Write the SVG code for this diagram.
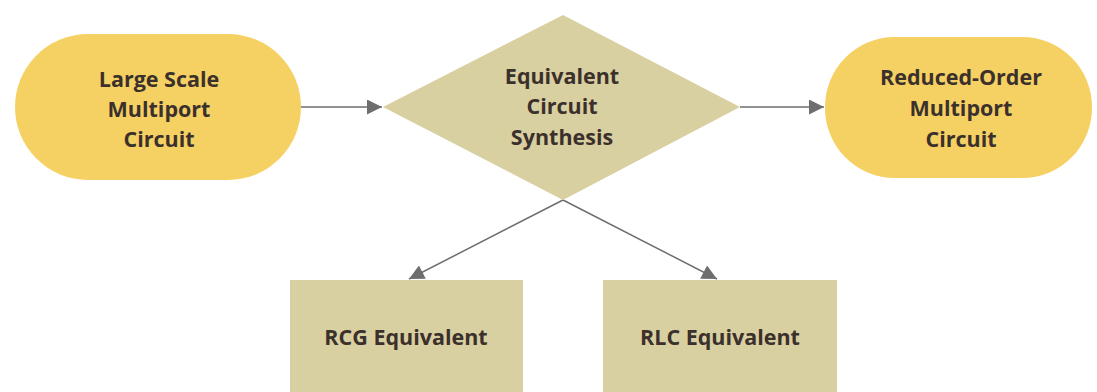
<svg xmlns="http://www.w3.org/2000/svg" width="1097" height="392" viewBox="0 0 1097 392">
  <style>
    .pill { fill: #f5d163; }
    .khaki { fill: #d9d0a1; }
    .label { font-family: "Open Sans", "Noto Sans", "Liberation Sans", sans-serif; font-weight: bold; font-size: 21.5px; fill: #3b302b; text-anchor: middle; }
    .edge { stroke: #6e6e6e; stroke-width: 1.5; fill: none; marker-end: url(#arrow); }
  </style>
  <defs>
    <marker id="arrow" viewBox="0 0 10 10" refX="10" refY="5" markerWidth="17" markerHeight="15" markerUnits="userSpaceOnUse" orient="auto">
      <path d="M0,0 L10,5 L0,10 z" fill="#6e6e6e"/>
    </marker>
  </defs>
  <rect width="1097" height="392" fill="#ffffff"/>

  <g id="connectors">
    <line class="edge" x1="300" y1="107" x2="382" y2="107"/>
    <line class="edge" x1="740" y1="107" x2="824" y2="107"/>
    <line class="edge" x1="563" y1="200" x2="409" y2="279"/>
    <line class="edge" x1="563" y1="200" x2="717" y2="279"/>
  </g>

  <g id="large-scale">
    <rect class="pill" x="15" y="34" width="286" height="146" rx="73"/>
    <text class="label" x="159" y="87">Large Scale</text>
    <text class="label" x="159" y="117">Multiport</text>
    <text class="label" x="159" y="147">Circuit</text>
  </g>

  <g id="synthesis">
    <polygon class="khaki" points="563,15 740,107 563,200 383,107"/>
    <text class="label" x="562" y="84">Equivalent</text>
    <text class="label" x="562" y="114">Circuit</text>
    <text class="label" x="562" y="145">Synthesis</text>
  </g>

  <g id="reduced-order">
    <rect class="pill" x="825" y="37" width="267" height="141" rx="70"/>
    <text class="label" x="961" y="85">Reduced-Order</text>
    <text class="label" x="961" y="116">Multiport</text>
    <text class="label" x="961" y="147">Circuit</text>
  </g>

  <g id="rcg">
    <rect class="khaki" x="290" y="280" width="233" height="112"/>
    <text class="label" x="406" y="345">RCG Equivalent</text>
  </g>

  <g id="rlc">
    <rect class="khaki" x="603" y="280" width="234" height="112"/>
    <text class="label" x="720" y="345">RLC Equivalent</text>
  </g>
</svg>
